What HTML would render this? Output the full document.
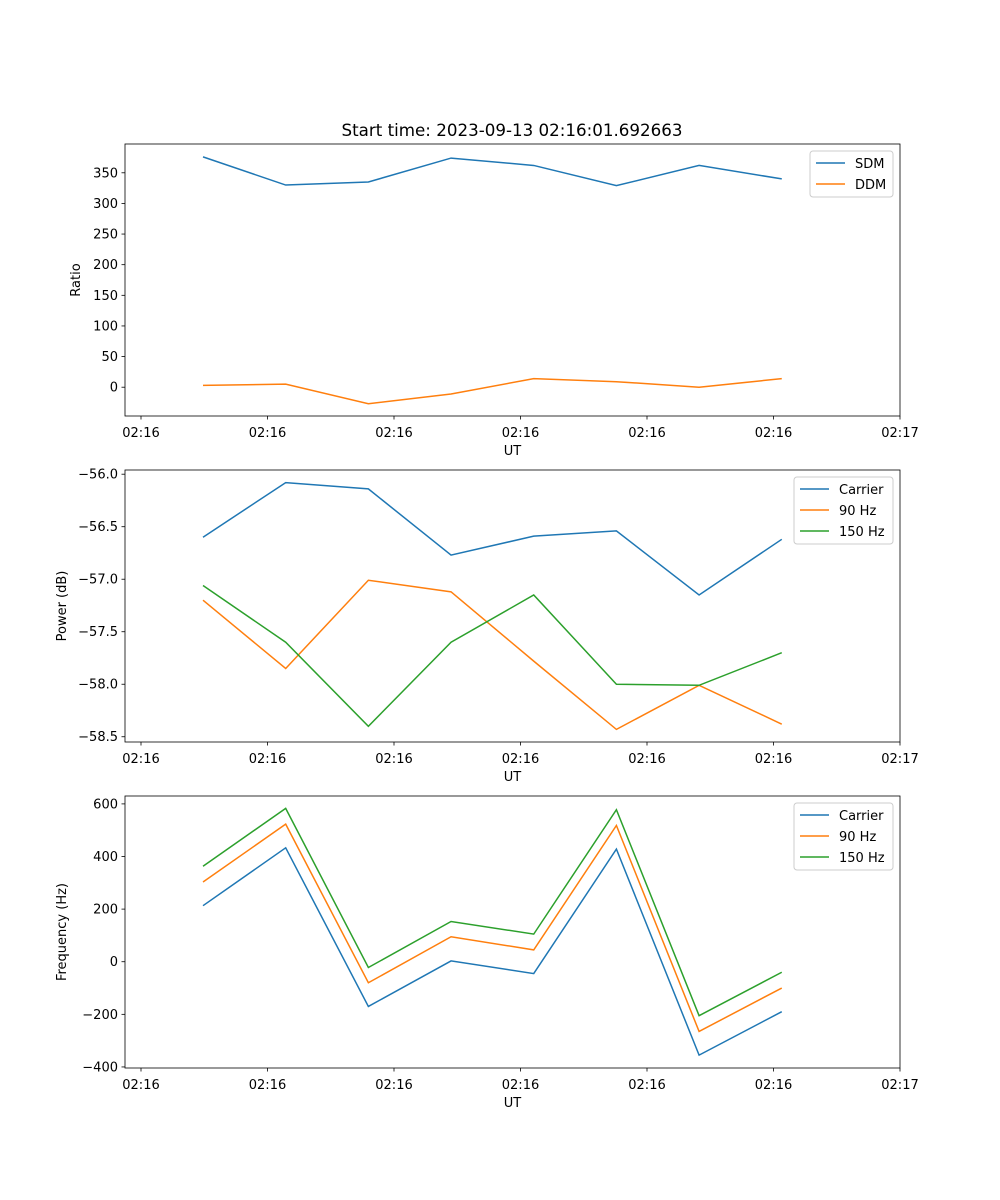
<!DOCTYPE html>
<html><head><meta charset="utf-8"><style>
body{margin:0;background:#fff}
svg{display:block;font-family:"DejaVu Sans","Liberation Sans",sans-serif}
</style></head><body>
<svg id="fig" width="1000" height="1200"></svg>
<script>
const xIdx=[0,1,2,3,4,5,6,7];
const xTicks=[-0.75,0.78,2.31,3.84,5.37,6.9,8.43];
const xTickLabels=["02:16","02:16","02:16","02:16","02:16","02:16","02:17"];
const sdm=[376,330,335,374,362,329,362,340];
const ddm=[3,5,-27,-11,14,9,0,14];
const powCarrier=[-56.60,-56.08,-56.14,-56.77,-56.59,-56.54,-57.15,-56.62];
const pow90=[-57.20,-57.85,-57.01,-57.12,-57.78,-58.43,-58.01,-58.38];
const pow150=[-57.06,-57.60,-58.40,-57.60,-57.15,-58.00,-58.01,-57.70];
const freqCarrier=[213,433,-170,3,-45,428,-355,-190];
const freq90=[303,523,-80,95,45,518,-265,-100];
const freq150=[363,583,-22,153,105,578,-205,-40];
const yTicks1=[0,50,100,150,200,250,300,350];
const yTicks2=[-58.5,-58.0,-57.5,-57.0,-56.5,-56.0];
const yTicks3=[-400,-200,0,200,400,600];

const NS="http://www.w3.org/2000/svg";
const svg=document.getElementById('fig');
function mk(tag,attrs,parent,text){const e=document.createElementNS(NS,tag);for(const k in attrs)e.setAttribute(k,attrs[k]);if(text!==undefined)e.textContent=text;(parent||svg).appendChild(e);return e;}
const L=125,R=900;
const xMin=-0.75,xMax=8.43;
function X(v){return 141+(v-xMin)*(900-141)/(xMax-xMin);}
const C=['#1f77b4','#ff7f0e','#2ca02c'];

function panel(name,top,bot,yMin,yMax,yTicks,fmt,ylabel,series,labels,legW){
  const g=mk('g',{});
  
  
  const Y=v=>bot-(v-yMin)*(bot-top)/(yMax-yMin);
  series.forEach((s,i)=>{
    const p=mk('polyline',{points:s.map((v,j)=>X(xIdx[j])+','+Y(v)).join(' '),fill:'none',stroke:C[i],'stroke-width':1.5},g);
    
    
  });
  const fr=mk('rect',{x:L,y:top,width:R-L,height:bot-top,fill:'none',stroke:'#000','stroke-width':0.8},g);
  
  
  xTicks.forEach((t,i)=>{
    mk('line',{x1:X(t),x2:X(t),y1:bot,y2:bot+3.5,stroke:'#000','stroke-width':0.8},g);
    const tx=mk('text',{x:X(t),y:bot+21,'font-size':13,'text-anchor':'middle'},g,xTickLabels[i]);
    
    
  });
  yTicks.forEach(t=>{
    mk('line',{x1:L-3.5,x2:L,y1:Y(t),y2:Y(t),stroke:'#000','stroke-width':0.8},g);
    const tx=mk('text',{x:L-7,y:Y(t)+4.5,'font-size':13,'text-anchor':'end'},g,fmt(t));
    
    
  });
  const xl=mk('text',{x:(L+R)/2,y:bot+39,'font-size':13,'text-anchor':'middle'},g,'UT');
  
  
  const yx=name==='ratio-panel'?80:66;
  const yl=mk('text',{x:yx,y:(top+bot)/2,'font-size':13,'text-anchor':'middle',transform:`rotate(-90 ${yx} ${(top+bot)/2})`},g,ylabel);
  
  
  const lg=mk('g',{},g);
  
  
  const lx=893-legW,ly=top+7;
  mk('rect',{x:lx,y:ly,width:legW,height:4+21*labels.length,rx:3,fill:'#fff',stroke:'#ccc','stroke-width':1},lg);
  labels.forEach((lab,i)=>{
    const yy=ly+12+21*i;
    mk('line',{x1:lx+6,x2:lx+35,y1:yy,y2:yy,stroke:C[i],'stroke-width':1.5},lg);
    const t=mk('text',{x:lx+45,y:yy+5,'font-size':13},lg,lab);
    
    
  });
}
const title=mk('text',{x:512,y:136,'font-size':16.7,'text-anchor':'middle'},svg,'Start time: 2023-09-13 02:16:01.692663');


panel('ratio-panel',144,416,-47,397,yTicks1,v=>String(v),'Ratio',[sdm,ddm],['SDM','DDM'],83);
panel('power-panel',470,742,-58.55,-55.96,yTicks2,v=>'\u2212'+Math.abs(v).toFixed(1),'Power (dB)',[powCarrier,pow90,pow150],['Carrier','90 Hz','150 Hz'],99);
panel('frequency-panel',796,1068,-404,630,yTicks3,v=>(v<0?'\u2212':'')+Math.abs(v),'Frequency (Hz)',[freqCarrier,freq90,freq150],['Carrier','90 Hz','150 Hz'],99);
</script>
</body></html>
